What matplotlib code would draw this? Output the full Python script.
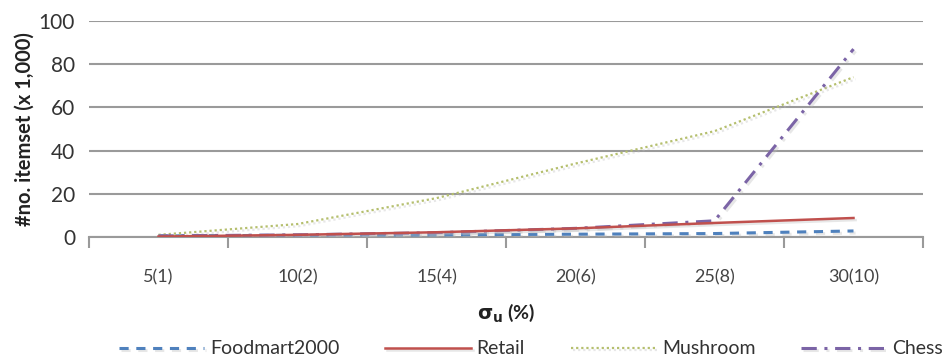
import matplotlib
matplotlib.use("Agg")
import matplotlib.pyplot as plt
import matplotlib.patheffects as pe
import numpy as np

categories = ["5(1)", "10(2)", "15(4)", "20(6)", "25(8)", "30(10)"]
foodmart = [0.5, 0.8, 1.0, 1.3, 1.6, 2.8]
retail = [0.2, 1.0, 2.2, 4.0, 6.5, 8.8]
mushroom = [1.0, 6.0, 18.0, 34.0, 49.0, 74.0]
chess = [0.5, 1.0, 2.0, 4.0, 7.5, 87.0]
y_ticks = [0, 20, 40, 60, 80, 100]

plt.rcParams["font.family"] = ["Lato", "DejaVu Sans"]

fig = plt.figure(figsize=(9.45, 3.62), dpi=100)
ax = fig.add_axes([89 / 945, 1 - 237 / 362, (923 - 89) / 945, (237 - 21) / 362])

x = np.arange(len(categories))
shadow = [pe.SimpleLineShadow(offset=(1.5, -1.5), shadow_color="#bbbbbb", alpha=0.35), pe.Normal()]

ax.plot(x, foodmart, color="#4F81BD", lw=2.2, linestyle=(0, (3, 2.5)),
        label="Foodmart2000", path_effects=shadow, zorder=3)
ax.plot(x, retail, color="#C0504D", lw=1.8, linestyle="-",
        label="Retail", path_effects=shadow, zorder=4)
ax.plot(x, mushroom, color="#B5BF6E", lw=1.6, linestyle=(0, (1, 1.3)),
        label="Mushroom", path_effects=shadow, zorder=3)
ax.plot(x, chess, color="#7B64A6", lw=2.2, linestyle=(0, (5, 2.5, 1, 2.5)),
        label="Chess", path_effects=shadow, zorder=3)

ax.set_xlim(-0.5, len(categories) - 0.5)
ax.set_ylim(0, 100)
ax.set_yticks(y_ticks)
ax.set_yticklabels([str(v) for v in y_ticks], fontsize=15, color="#333333")
ax.tick_params(axis="y", length=0, pad=10)

ax.set_xticks(x)
ax.set_xticklabels(categories, fontsize=13, color="#444444")
ax.set_xticks(np.arange(-0.5, len(categories)), minor=True)
ax.tick_params(axis="x", which="major", length=0, pad=23)
ax.tick_params(axis="x", which="minor", length=8, width=1.5, color="#9a9a9a")

ax.grid(axis="y", color="#9a9a9a", lw=1.5)
ax.set_axisbelow(True)
for side in ["top", "right", "left"]:
    ax.spines[side].set_visible(False)
ax.spines["bottom"].set_color("#9a9a9a")
ax.spines["bottom"].set_linewidth(1.5)

ax.set_ylabel("#no. itemset (x 1,000)", fontsize=14.5, fontweight="bold", color="#222222", labelpad=3)
fig.text(506 / 945, 1 - 313 / 362, r"$\mathbf{\sigma_u}$ (%)", ha="center", va="center",
         fontsize=14, fontweight="bold", color="#222222")

fig.legend(loc="center", bbox_to_anchor=(531 / 945, 1 - 349 / 362), ncol=4, frameon=False,
           fontsize=14, handlelength=4.4, columnspacing=2.35, handletextpad=0.3,
           labelcolor="#333333")

fig.savefig("out.png", dpi=100)
